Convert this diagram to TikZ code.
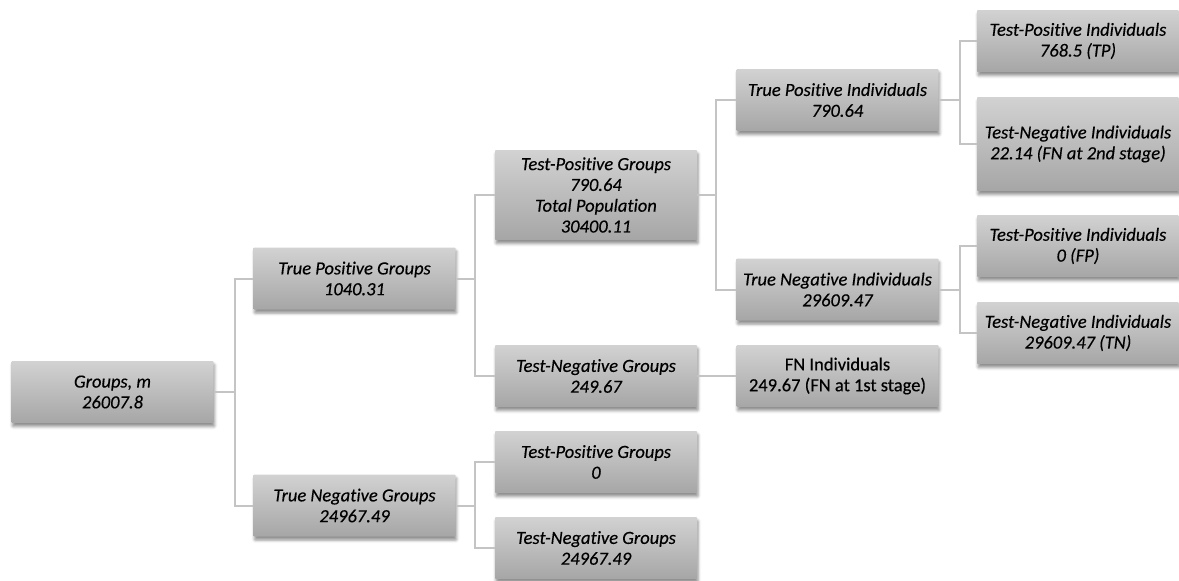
\documentclass[tikz,border=0pt]{standalone}
\usepackage{fontspec}
\setmainfont{Carlito}[Ligatures={NoCommon},
  UprightFeatures={FakeBold=0.35}, ItalicFeatures={FakeBold=0.35}]
\usetikzlibrary{shadows.blur}
\definecolor{boxtop}{RGB}{210,210,210}
\definecolor{boxbot}{RGB}{166,166,166}
\definecolor{linkgray}{RGB}{196,196,196}
\begin{document}
\begin{tikzpicture}[x=1pt,y=-1pt,
  treebox/.style={rectangle, rounded corners=0.8pt, top color=boxtop, bottom color=boxbot,
    draw=none, minimum width=202pt, minimum height=62pt, inner sep=0pt, align=center,
    font=\fontsize{18.5}{20.8}\selectfont\itshape,
    blur shadow={shadow xshift=1pt, shadow yshift=-3.5pt, shadow blur radius=3pt, shadow opacity=45}},
  plainbox/.style={treebox, font=\fontsize{18.5}{20.8}\selectfont},
  link/.style={draw=linkgray, line width=2pt}]
\useasboundingbox (0,0) rectangle (1179,581);

% first level
\node[treebox] (g) at (112.5,392) {Groups, m\\26007.8};

% second level
\node[treebox] (tpg) at (354.5,278.5) {True Positive Groups\\1040.31};
\node[treebox] (tng) at (354.5,505.5) {True Negative Groups\\24967.49};

% third level
\node[treebox, minimum height=90pt] (tpgb) at (596,195) {Test-Positive Groups\\790.64\\Total Population\\30400.11};
\node[treebox] (tngb) at (596,376) {Test-Negative Groups\\249.67};
\node[treebox] (tpg0) at (596,462) {Test-Positive Groups\\0};
\node[treebox] (tngg) at (596,548) {Test-Negative Groups\\24967.49};

% fourth level
\node[treebox] (tpi) at (837.5,100) {True Positive Individuals\\790.64};
\node[treebox] (tni) at (837.5,289.5) {True Negative Individuals\\29609.47};
\node[plainbox] (fni) at (837.5,376) {FN Individuals\\249.67 (FN at 1st stage)};

% fifth level
\node[treebox] (r1) at (1078,41) {Test-Positive Individuals\\768.5 (TP)};
\node[treebox, minimum height=94pt] (r2) at (1078,144) {Test-Negative Individuals\\22.14 (FN at 2nd stage)};
\node[treebox] (r3) at (1078,246) {Test-Positive Individuals\\0 (FP)};
\node[treebox] (r4) at (1078,333) {Test-Negative Individuals\\29609.47 (TN)};

% connectors
\draw[link] (g.east) -- ++(21,0) |- (tpg.west);
\draw[link] (g.east) -- ++(21,0) |- (tng.west);
\draw[link] (tpg.east) -- ++(19,0) |- (tpgb.west);
\draw[link] (tpg.east) -- ++(19,0) |- (tngb.west);
\draw[link] (tng.east) -- ++(19,0) |- (tpg0.west);
\draw[link] (tng.east) -- ++(19,0) |- (tngg.west);
\draw[link] (tpgb.east) -- ++(19,0) |- (tpi.west);
\draw[link] (tpgb.east) -- ++(19,0) |- (tni.west);
\draw[link] (tngb.east) -- (fni.west);
\draw[link] (tpi.east) -- ++(21,0) |- (r1.west);
\draw[link] (tpi.east) -- ++(21,0) |- (r2.west);
\draw[link] (tni.east) -- ++(21,0) |- (r3.west);
\draw[link] (tni.east) -- ++(21,0) |- (r4.west);
\end{tikzpicture}
\end{document}
